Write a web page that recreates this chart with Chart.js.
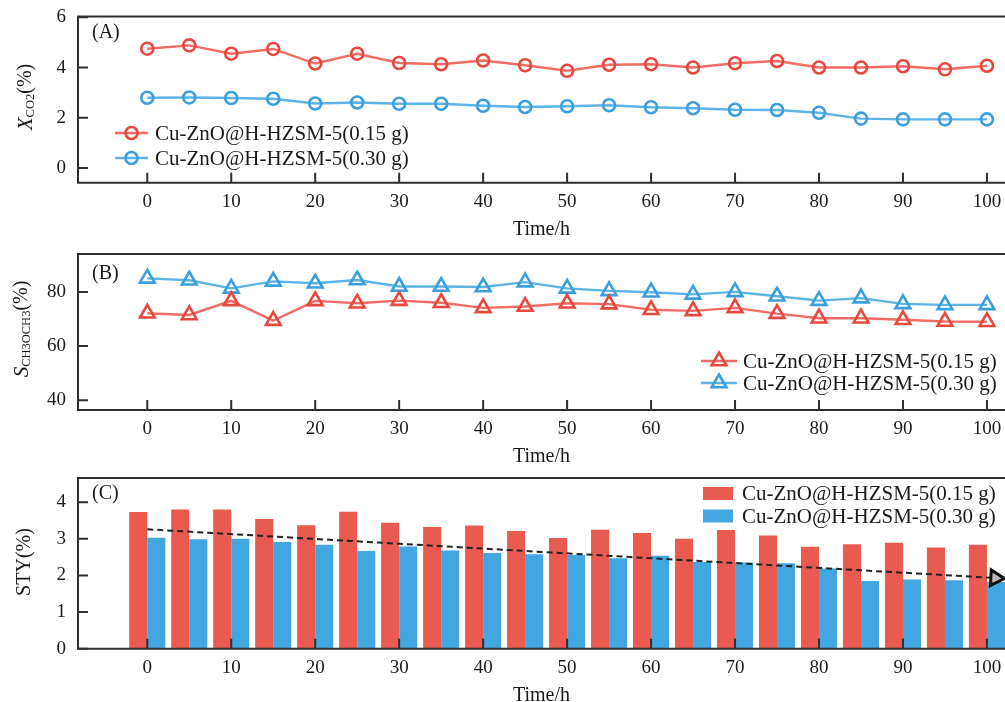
<!doctype html>
<html>
<head>
<meta charset="utf-8">
<title>Cu-ZnO@H-HZSM-5 stability test</title>
<script src="https://cdn.jsdelivr.net/npm/chart.js@4.4.1/dist/chart.umd.min.js"></script>
<style>
	html, body { margin: 0; padding: 0; background: #fff; overflow: hidden; }
	#wrap { position: relative; width: 1005px; height: 702px; }
	#wrap canvas { position: absolute; left: 0; top: 0; }
</style>
</head>
<body>
<div id="wrap">
	<canvas id="chartA" width="1005" height="720"></canvas>
	<canvas id="chartB" width="1005" height="720"></canvas>
	<canvas id="chartC" width="1005" height="720"></canvas>
</div>
<script>
// ---- data ----
const timeH = [0, 5, 10, 15, 20, 25, 30, 35, 40, 45, 50, 55, 60, 65, 70, 75, 80, 85, 90, 95, 100];
const seriesNames = ['Cu-ZnO@H-HZSM-5(0.15 g)', 'Cu-ZnO@H-HZSM-5(0.30 g)'];

// (A) CO2 conversion
const convLow = [4.75, 4.88, 4.55, 4.74, 4.16, 4.55, 4.18, 4.13, 4.28, 4.09, 3.87, 4.11, 4.13, 4.00, 4.17, 4.26, 4.00, 4.00, 4.05, 3.93, 4.07];
const convHigh = [2.80, 2.81, 2.79, 2.76, 2.57, 2.61, 2.56, 2.56, 2.48, 2.43, 2.46, 2.50, 2.42, 2.38, 2.32, 2.31, 2.20, 1.97, 1.94, 1.94, 1.94];
// (B) DME selectivity
const selLow = [72.1, 71.5, 76.7, 69.4, 76.7, 75.8, 76.8, 76.0, 74.1, 74.6, 75.8, 75.5, 73.4, 73.0, 74.1, 72.0, 70.3, 70.3, 69.7, 69.1, 69.0];
const selHigh = [85.0, 84.3, 81.3, 83.9, 83.2, 84.4, 82.0, 82.0, 81.8, 83.6, 81.3, 80.4, 79.9, 79.1, 80.0, 78.4, 76.8, 77.7, 75.6, 75.2, 75.2];
// (C) STY
const styLow = [3.73, 3.80, 3.80, 3.54, 3.37, 3.74, 3.44, 3.32, 3.36, 3.21, 3.02, 3.25, 3.16, 3.00, 3.24, 3.09, 2.78, 2.85, 2.89, 2.76, 2.84];
const styHigh = [3.03, 2.99, 3.00, 2.91, 2.84, 2.67, 2.79, 2.68, 2.61, 2.58, 2.56, 2.47, 2.54, 2.37, 2.35, 2.33, 2.19, 1.85, 1.89, 1.87, 1.82];
const trendX = [0, 101];
const trendY = [3.26, 1.93];

// tick labels
const xTicks = [0, 10, 20, 30, 40, 50, 60, 70, 80, 90, 100];
const yTicksA = [0, 2, 4, 6];
const yTicksB = [40, 60, 80];
const yTicksC = [0, 1, 2, 3, 4];

// ---- style ----
const FONT = "'Liberation Serif', 'Times New Roman', serif";
const INK = '#1a1a1a';
const FRAME = '#2e2e2e';
const RED_LINE = '#ef6d64';
const RED_MARK = '#e8473e';
const BLUE_LINE = '#5cb3e6';
const BLUE_MARK = '#3a9fdc';
const RED_BAR = '#e95a50';
const BLUE_BAR = '#42a6e0';
const X_MIN = -8.25, X_MAX = 102.15;

Chart.defaults.animation = false;
Chart.defaults.font.family = FONT;
Chart.defaults.color = INK;

const pts = (xs, ys) => xs.map((x, i) => ({x: x, y: ys[i]}));

function xAxis() {
	return {
		type: 'linear', min: X_MIN, max: X_MAX, offset: false,
		afterBuildTicks: s => { s.ticks = xTicks.map(v => ({value: v})); },
		afterFit: s => { s.height = 61; s.paddingLeft = 0; s.paddingRight = 0; },
		grid: {display: false, drawTicks: false},
		border: {display: false},
		ticks: {font: {size: 19}, color: INK, padding: 8, maxRotation: 0, autoSkip: false},
		title: {display: true, text: 'Time/h', font: {size: 20}, color: INK, padding: {top: 0, bottom: 2}}
	};
}

function yAxis(min, max, ticks) {
	return {
		min: min, max: max,
		afterBuildTicks: s => { s.ticks = ticks.map(v => ({value: v})); },
		afterFit: s => { s.width = 78; s.paddingTop = 0; s.paddingBottom = 0; },
		grid: {display: false, drawTicks: false},
		border: {display: false},
		ticks: {font: {size: 19}, color: INK, padding: 12}
	};
}

// frame, inward ticks, panel tag, y title with subscripts, legend
function decoPlugin(o) {
	return {
		id: 'deco',
		afterDatasetsDraw(chart) {
			const {ctx, chartArea: a, scales} = chart;
			ctx.save();
			ctx.strokeStyle = FRAME;
			ctx.lineWidth = 2;
			ctx.beginPath();
			ctx.moveTo(a.right + 2, a.top);
			ctx.lineTo(a.left, a.top);
			ctx.lineTo(a.left, a.bottom);
			ctx.lineTo(a.right + 2, a.bottom);
			ctx.stroke();

			ctx.beginPath();
			scales.x.ticks.forEach(t => {
				const px = scales.x.getPixelForValue(t.value);
				ctx.moveTo(px, a.bottom);
				ctx.lineTo(px, a.bottom - 10);
			});
			scales.y.ticks.forEach(t => {
				const py = scales.y.getPixelForValue(t.value);
				ctx.moveTo(a.left, py);
				ctx.lineTo(a.left + 10, py);
			});
			ctx.stroke();

			// panel tag
			ctx.fillStyle = INK;
			ctx.textBaseline = 'middle';
			ctx.textAlign = 'left';
			ctx.font = '20px ' + FONT;
			ctx.fillText(o.tag, 92, o.tagY);

			// y title, rotated
			ctx.save();
			ctx.translate(o.yTitle.x, o.yTitle.y);
			ctx.rotate(-Math.PI / 2);
			const fontOf = p => (p.italic ? 'italic 21px ' : p.sub ? '12.5px ' : '20px ') + FONT;
			let total = 0;
			o.yTitle.parts.forEach(p => { ctx.font = fontOf(p); total += ctx.measureText(p.text).width; });
			let cx = -total / 2;
			o.yTitle.parts.forEach(p => {
				ctx.font = fontOf(p);
				ctx.fillText(p.text, cx, p.sub ? 5 : 0);
				cx += ctx.measureText(p.text).width;
			});
			ctx.restore();

			// legend
			const L = o.legend;
			chart.data.datasets.forEach((ds, i) => {
				if (!ds.label) return;
				const ly = L.ys[i];
				if (L.kind === 'box') {
					ctx.fillStyle = ds.backgroundColor;
					ctx.fillRect(L.x1, ly - 6.5, L.x2 - L.x1, 13);
				} else {
					ctx.strokeStyle = ds.borderColor;
					ctx.lineWidth = ds.borderWidth;
					ctx.beginPath();
					ctx.moveTo(L.x1, ly);
					ctx.lineTo(L.x2, ly);
					ctx.stroke();
					ctx.strokeStyle = ds.pointBorderColor;
					ctx.fillStyle = 'rgba(255,255,255,0)';
					ctx.lineWidth = ds.pointBorderWidth;
					Chart.helpers.drawPoint(ctx, {
						pointStyle: ds.pointStyle, radius: ds.pointRadius,
						rotation: 0, borderWidth: ds.pointBorderWidth
					}, (L.x1 + L.x2) / 2, ly);
				}
				ctx.fillStyle = INK;
				ctx.font = '21px ' + FONT;
				ctx.textBaseline = 'middle';
				ctx.fillText(ds.label, L.tx, ly + 1);
			});
			ctx.restore();
		}
	};
}

function lineSet(label, ys, lineColor, markColor, style, radius) {
	return {
		label: label,
		data: pts(timeH, ys),
		borderColor: lineColor,
		borderWidth: 2.4,
		pointStyle: style,
		pointRadius: radius,
		pointBorderColor: markColor,
		pointBackgroundColor: 'rgba(255,255,255,0)',
		pointBorderWidth: 2.6,
		tension: 0
	};
}

window.onload = function() {
	// (A)
	new Chart(document.getElementById('chartA'), {
		type: 'line',
		data: {datasets: [
			lineSet(seriesNames[0], convLow, RED_LINE, RED_MARK, 'circle', 6),
			lineSet(seriesNames[1], convHigh, BLUE_LINE, BLUE_MARK, 'circle', 6)
		]},
		options: {
			responsive: false, devicePixelRatio: 1,
			layout: {autoPadding: false, padding: {left: 0, right: 0, top: 16.5, bottom: 720 - 182.7 - 61}},
			plugins: {legend: {display: false}, tooltip: {enabled: false}},
			scales: {x: xAxis(), y: yAxis(-0.58, 6.03, yTicksA)}
		},
		plugins: [decoPlugin({
			tag: '(A)', tagY: 33,
			yTitle: {x: 26, y: 97, parts: [{text: 'X', italic: true}, {text: 'CO2', sub: true}, {text: '(%)'}]},
			legend: {kind: 'line', x1: 115, x2: 148, tx: 155, ys: [133, 158]}
		})]
	});

	// (B)
	new Chart(document.getElementById('chartB'), {
		type: 'line',
		data: {datasets: [
			lineSet(seriesNames[0], selLow, RED_LINE, RED_MARK, 'triangle', 8.5),
			lineSet(seriesNames[1], selHigh, BLUE_LINE, BLUE_MARK, 'triangle', 8.5)
		]},
		options: {
			responsive: false, devicePixelRatio: 1,
			layout: {autoPadding: false, padding: {left: 0, right: 0, top: 254, bottom: 720 - 410 - 61}},
			plugins: {legend: {display: false}, tooltip: {enabled: false}},
			scales: {x: xAxis(), y: yAxis(36.4, 94, yTicksB)}
		},
		plugins: [decoPlugin({
			tag: '(B)', tagY: 274,
			yTitle: {x: 22, y: 329, parts: [{text: 'S', italic: true}, {text: 'CH3OCH3', sub: true}, {text: '(%)'}]},
			legend: {kind: 'line', x1: 701, x2: 737, tx: 743, ys: [361, 383]}
		})]
	});

	// (C)
	new Chart(document.getElementById('chartC'), {
		type: 'bar',
		data: {datasets: [
			{label: seriesNames[0], data: pts(timeH, styLow), backgroundColor: RED_BAR, borderWidth: 0,
				categoryPercentage: 0.86, barPercentage: 1.0},
			{label: seriesNames[1], data: pts(timeH, styHigh), backgroundColor: BLUE_BAR, borderWidth: 0,
				categoryPercentage: 0.86, barPercentage: 1.0},
			{type: 'line', data: pts(trendX, trendY), order: -1,
				borderColor: '#222', borderWidth: 2, borderDash: [6, 4], fill: false,
				pointStyle: 'triangle', pointRadius: [0, 9], pointRotation: 93,
				pointBorderColor: '#111', pointBorderWidth: 3,
				pointBackgroundColor: 'rgba(60,60,60,0.35)'}
		]},
		options: {
			responsive: false, devicePixelRatio: 1,
			layout: {autoPadding: false, padding: {left: 0, right: 0, top: 478, bottom: 720 - 648.7 - 61}},
			plugins: {legend: {display: false}, tooltip: {enabled: false}},
			scales: {x: xAxis(), y: yAxis(0, 4.66, yTicksC)}
		},
		plugins: [decoPlugin({
			tag: '(C)', tagY: 494,
			yTitle: {x: 25, y: 562, parts: [{text: 'STY(%)'}]},
			legend: {kind: 'box', x1: 703, x2: 733, tx: 742, ys: [493.5, 516]}
		})]
	});
};
</script>
</body>
</html>
